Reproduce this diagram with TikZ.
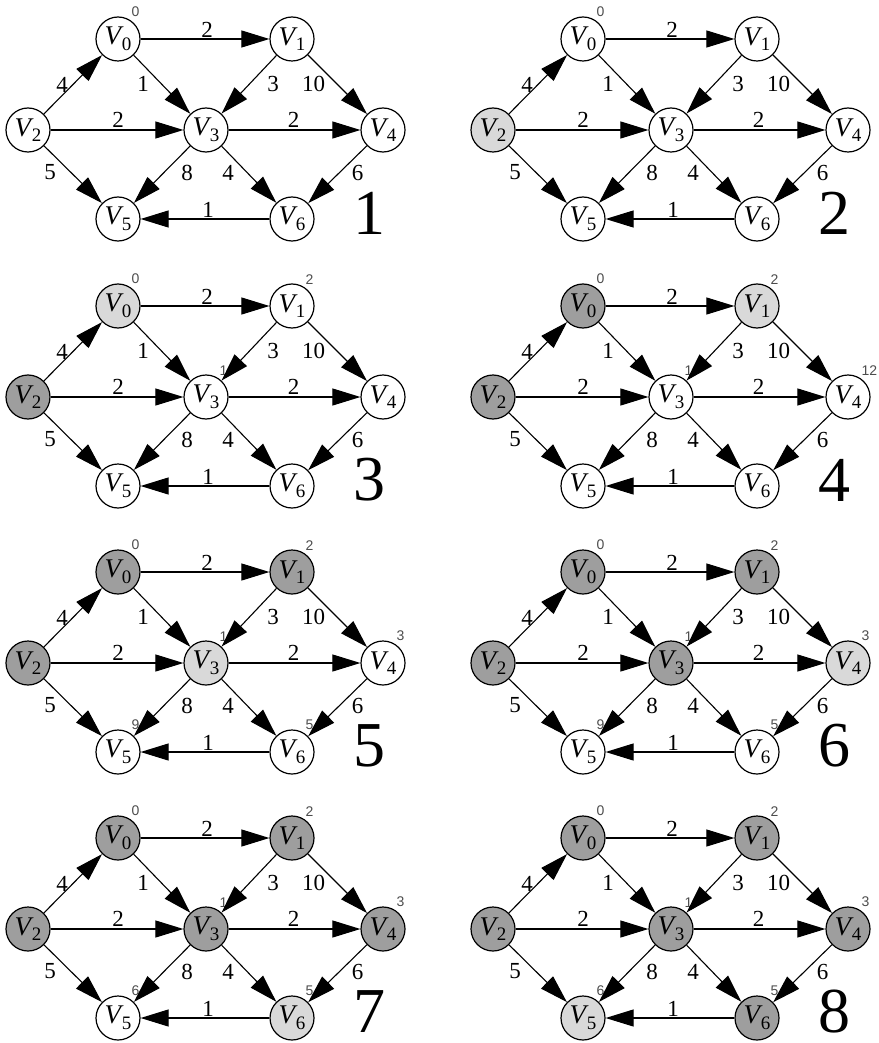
\documentclass[tikz,border=0pt]{standalone}
\usepackage{fontspec}
\setmainfont{Liberation Serif}
\newfontfamily\lblfont{Liberation Sans}
\usetikzlibrary{arrows.meta}
\definecolor{shadelt}{gray}{0.85}
\definecolor{shadedk}{gray}{0.62}
\newcommand{\vname}[1]{\textit{V}\kern-.06em\raisebox{-.45ex}{\fontsize{9.5}{10}\selectfont #1}}
\newcommand{\dgpanel}[3]{%
    \begin{scope}[shift={#2}, #3]
        \node[vert,v0] (p#1v0) at (118,39) {\vname{0}};
        \node[vert,v1] (p#1v1) at (292,39) {\vname{1}};
        \node[vert,v2] (p#1v2) at (28,130) {\vname{2}};
        \node[vert,v3] (p#1v3) at (206,130) {\vname{3}};
        \node[vert,v4] (p#1v4) at (383,130) {\vname{4}};
        \node[vert,v5] (p#1v5) at (118,219) {\vname{5}};
        \node[vert,v6] (p#1v6) at (292,219) {\vname{6}};
        \draw[edge] (p#1v0) -- node[wt,shift={(2,-9)}] {2} (p#1v1);
        \draw[edge] (p#1v0) -- node[wt,shift={(-19,-1)}] {1} (p#1v3);
        \draw[edge] (p#1v1) -- node[wt,shift={(24,-1)}] {3} (p#1v3);
        \draw[edge] (p#1v1) -- node[wt,shift={(-24,-1)}] {10} (p#1v4);
        \draw[edge] (p#1v2) -- node[wt,shift={(-11,0)}] {4} (p#1v0);
        \draw[edge] (p#1v2) -- node[wt,shift={(1,-10)}] {2} (p#1v3);
        \draw[edge] (p#1v2) -- node[wt,shift={(-23,-2)}] {5} (p#1v5);
        \draw[edge] (p#1v3) -- node[wt,shift={(-1,-10)}] {2} (p#1v4);
        \draw[edge] (p#1v3) -- node[wt,shift={(25,-2)}] {8} (p#1v5);
        \draw[edge] (p#1v3) -- node[wt,shift={(-21,-2)}] {4} (p#1v6);
        \draw[edge] (p#1v4) -- node[wt,shift={(20,-2)}] {6} (p#1v6);
        \draw[edge] (p#1v6) -- node[wt,shift={(3,-9)}] {1} (p#1v5);
        \node[bignum] (p#1num) at (369,213) {#1};
    \end{scope}}

\begin{document}
\begin{tikzpicture}[x=0.5pt, y=-0.5pt,
    vert/.style={circle, draw, line width=.6pt, minimum size=22pt, inner sep=0pt,
        fill=white, font=\fontsize{13.5}{14}\selectfont},
    lit/.style={fill=shadelt},
    done/.style={fill=shadedk},
    dl/.style={label={[dlbl]60:#1}},
    dlbl/.style={font=\lblfont\fontsize{7}{8}\selectfont, text=black!70,
        inner sep=1pt, label distance=0pt},
    edge/.style={line width=.55pt, -{Triangle[length=14pt,width=8.5pt]}},
    wt/.style={font=\fontsize{11.5}{12}\selectfont, inner sep=0pt},
    bignum/.style={font=\fontsize{32}{34}\selectfont, inner sep=0pt},
    v0/.style={}, v1/.style={}, v2/.style={}, v3/.style={},
    v4/.style={}, v5/.style={}, v6/.style={}]
    \useasboundingbox (0,0) rectangle (878,1043);
    \dgpanel{1}{(0,0)}{v0/.style={dl=0}}
    \dgpanel{2}{(465,0)}{v0/.style={dl=0}, v2/.style={lit}}
    \dgpanel{3}{(0,267)}{v0/.style={lit,dl=0}, v1/.style={dl=2}, v2/.style={done},
        v3/.style={dl=1}}
    \dgpanel{4}{(465,267)}{v0/.style={done,dl=0}, v1/.style={lit,dl=2},
        v2/.style={done}, v3/.style={dl=1}, v4/.style={dl=12}}
    \dgpanel{5}{(0,533)}{v0/.style={done,dl=0}, v1/.style={done,dl=2},
        v2/.style={done}, v3/.style={lit,dl=1}, v4/.style={dl=3},
        v5/.style={dl=9}, v6/.style={dl=5}}
    \dgpanel{6}{(465,533)}{v0/.style={done,dl=0}, v1/.style={done,dl=2},
        v2/.style={done}, v3/.style={done,dl=1}, v4/.style={lit,dl=3},
        v5/.style={dl=9}, v6/.style={dl=5}}
    \dgpanel{7}{(0,799)}{v0/.style={done,dl=0}, v1/.style={done,dl=2},
        v2/.style={done}, v3/.style={done,dl=1}, v4/.style={done,dl=3},
        v5/.style={dl=6}, v6/.style={lit,dl=5}}
    \dgpanel{8}{(465,799)}{v0/.style={done,dl=0}, v1/.style={done,dl=2},
        v2/.style={done}, v3/.style={done,dl=1}, v4/.style={done,dl=3},
        v5/.style={lit,dl=6}, v6/.style={done,dl=5}}
\end{tikzpicture}
\end{document}
